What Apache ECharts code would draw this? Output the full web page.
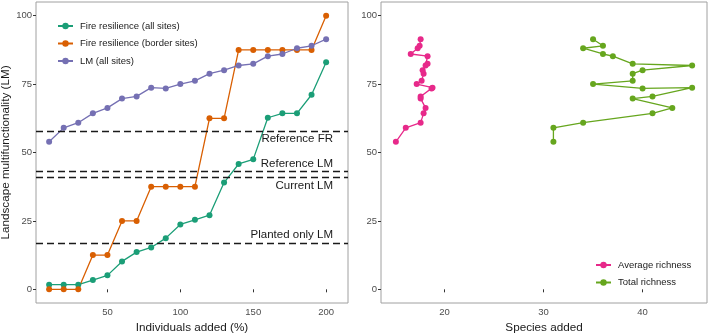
<!DOCTYPE html>
<html>
<head>
<meta charset="utf-8">
<script src="https://cdn.jsdelivr.net/npm/echarts@6/dist/echarts.min.js"></script>
<style>
  html, body { margin: 0; padding: 0; background: #fff; }
  #chart { width: 709px; height: 333px; }
</style>
</head>
<body>
<div id="chart"></div>
<script>
// left panel: individuals added (%)
var added = [10, 20, 30, 40, 50, 60, 70, 80, 90, 100, 110, 120, 130, 140, 150, 160, 170, 180, 190, 200];
var frAll = [1.7, 1.7, 1.7, 3.4, 5.1, 10.2, 13.6, 15.3, 18.7, 23.7, 25.4, 27.1, 39.0, 45.8, 47.5, 62.7, 64.3, 64.3, 71.1, 83.0];
var frBorder = [0, 0, 0, 12.5, 12.5, 25, 25, 37.5, 37.5, 37.5, 37.5, 62.5, 62.5, 87.5, 87.5, 87.5, 87.5, 87.5, 87.5, 100];
var lmAll = [53.9, 59.0, 60.9, 64.3, 66.3, 69.7, 70.5, 73.7, 73.4, 75.0, 76.2, 78.8, 80.1, 81.8, 82.4, 85.2, 86.0, 88.1, 89.0, 91.4];

// right panel: species added, same LM values on y
var avgRichness = [15.1, 16.1, 17.6, 17.9, 18.1, 17.6, 17.6, 18.8, 18.7, 17.2, 17.7, 17.9, 17.8, 18.1, 18.3, 18.3, 16.6, 17.3, 17.5, 17.6];
var totRichness = [31, 31, 34, 41, 43, 39, 41, 45, 40, 35, 39, 39, 40, 45, 39, 37, 36, 34, 36, 35];

// reference lines
var refNames = ['Reference FR', 'Reference LM', 'Current LM', 'Planted only LM'];
var refValues = [57.8, 43.0, 40.8, 17.0];
var refSide = ['Bottom', 'Top', 'Bottom', 'Top'];

var yTicks = [0, 25, 50, 75, 100];
var xTicksL = [50, 100, 150, 200];
var xTicksR = [20, 30, 40];

function pairs(xs, ys) {
	return xs.map(function (x, i) { return [x, ys[i]]; });
}

var font = 'Liberation Sans, Arial, sans-serif';

function valueAxis(idx, min, max, ticks, name, isY) {
	var ax = {
		type: 'value',
		gridIndex: idx,
		min: min,
		max: max,
		splitLine: { show: false },
		axisLine: { show: false },
		axisTick: { show: true, length: 3, customValues: ticks, lineStyle: { color: '#333' } },
		axisLabel: { customValues: ticks, fontSize: 9.5, color: '#4d4d4d', fontFamily: font, margin: 4 },
		name: name,
		nameLocation: 'middle',
		nameTextStyle: { fontSize: 11.7, color: '#1a1a1a', fontFamily: font }
	};
	if (isY) ax.nameGap = 21; else ax.nameGap = 16;
	return ax;
}

function lineSeries(name, color, data, xi) {
	return {
		name: name,
		type: 'line',
		xAxisIndex: xi,
		yAxisIndex: xi,
		data: data,
		symbol: 'circle',
		symbolSize: 6,
		itemStyle: { color: color },
		lineStyle: { color: color, width: 1.3 },
		emphasis: { disabled: true },
		z: 3
	};
}

var series = [
	lineSeries('Fire resilience (all sites)', '#1b9e77', pairs(added, frAll), 0),
	lineSeries('Fire resilience (border sites)', '#d95f02', pairs(added, frBorder), 0),
	lineSeries('LM (all sites)', '#7570b3', pairs(added, lmAll), 0),
	lineSeries('Average richness', '#e7298a', pairs(avgRichness, lmAll), 1),
	lineSeries('Total richness', '#66a61e', pairs(totRichness, lmAll), 1)
];

series[2].markLine = {
	silent: true,
	symbol: 'none',
	animation: false,
	lineStyle: { color: '#1a1a1a', type: [7, 4], width: 1.3 },
	data: refValues.map(function (v, i) {
		return {
			yAxis: v,
			label: {
				show: true,
				formatter: refNames[i],
				position: 'insideEnd' + refSide[i],
				distance: [15, 2],
				fontSize: 11.5,
				color: '#1a1a1a',
				fontFamily: font
			}
		};
	})
};

var myChart = echarts.init(document.getElementById('chart'), null, { renderer: 'canvas' });
var option = {
	animation: false,
	backgroundColor: '#fff',
	grid: [
		{ left: 36, top: 2, width: 312, height: 301, outerBoundsMode: 'none', show: true, borderColor: '#a0a0a0', borderWidth: 1, backgroundColor: 'transparent' },
		{ left: 381, top: 2, width: 326, height: 301, outerBoundsMode: 'none', show: true, borderColor: '#a0a0a0', borderWidth: 1, backgroundColor: 'transparent' }
	],
	xAxis: [
		valueAxis(0, 1, 215, xTicksL, 'Individuals added (%)', false),
		valueAxis(1, 13.6, 46.5, xTicksR, 'Species added', false)
	],
	yAxis: [
		valueAxis(0, -5, 105, yTicks, 'Landscape multifunctionality (LM)', true),
		valueAxis(1, -5, 105, yTicks, '', true)
	],
	legend: [
		{
			data: ['Fire resilience (all sites)', 'Fire resilience (border sites)', 'LM (all sites)'],
			orient: 'vertical',
			left: 52,
			top: 16,
			itemWidth: 15,
			itemHeight: 8,
			itemGap: 7.5,
			textStyle: { fontSize: 9.5, color: '#1a1a1a', fontFamily: font, padding: [0, 0, 0, 2] }
		},
		{
			data: ['Average richness', 'Total richness'],
			orient: 'vertical',
			left: 590,
			top: 255,
			itemWidth: 15,
			itemHeight: 8,
			itemGap: 7.5,
			textStyle: { fontSize: 9.5, color: '#1a1a1a', fontFamily: font, padding: [0, 0, 0, 2] }
		}
	],
	series: series
};
myChart.setOption(option);
window.addEventListener("resize", function() {
	myChart.resize();
});
</script>
</body>
</html>
